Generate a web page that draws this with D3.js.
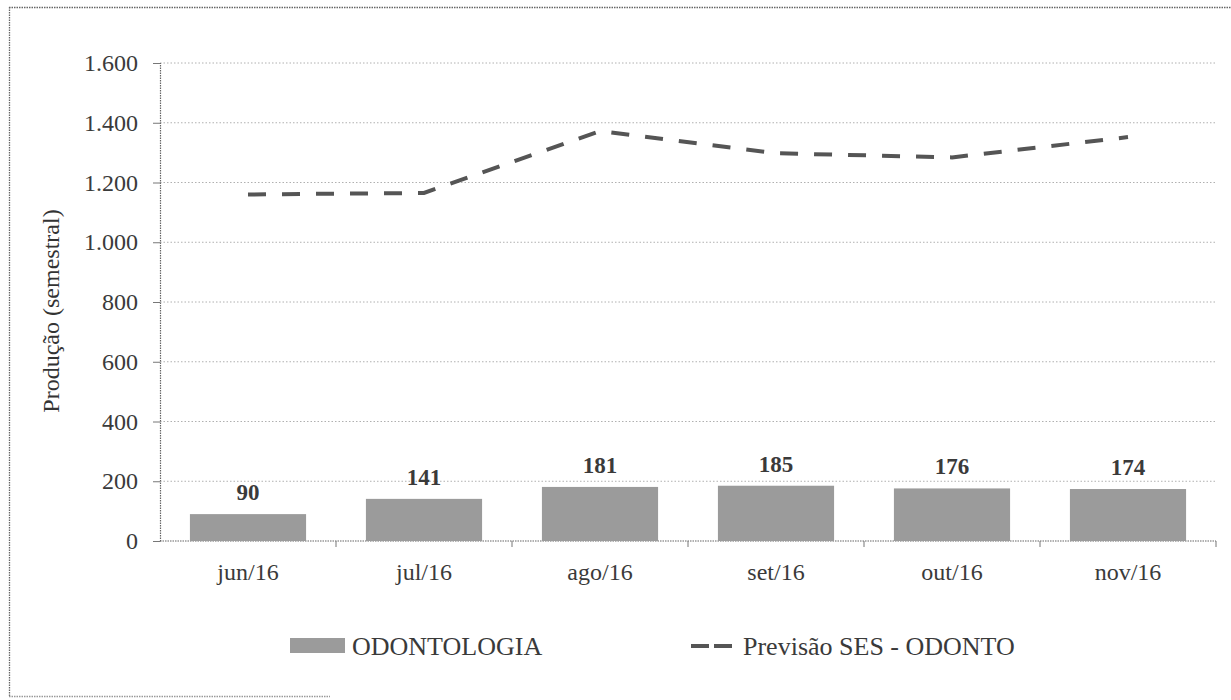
<!DOCTYPE html>
<html>
<head>
<meta charset="utf-8">
<script src="https://cdn.jsdelivr.net/npm/d3@7"></script>
<style>
  body { margin: 0; background: #fff; }
  svg { display: block; }
  svg text { font-family: "Liberation Serif", "Times New Roman", Times, "DejaVu Serif", serif; }
</style>
</head>
<body>
<svg id="chart" width="1231" height="700"></svg>
<script>
var months = ["jun/16", "jul/16", "ago/16", "set/16", "out/16", "nov/16"]
var odontologia = [90, 141, 181, 185, 176, 174]
var previsao = [1160, 1165, 1372, 1298, 1284, 1352]
var yTicks = [0, 200, 400, 600, 800, 1000, 1200, 1400, 1600]

var svg = d3.select("#chart")

// frame (scan shows top, left and a piece of the bottom edge)
var frame = svg.append("g")
    .attr("stroke", "#666")
    .attr("stroke-width", 1.3)
    .attr("stroke-dasharray", "1.5,1")
frame.append("line").attr("x1", 9).attr("x2", 1231).attr("y1", 7.5).attr("y2", 7.5)
frame.append("line").attr("x1", 9.5).attr("x2", 9.5).attr("y1", 7).attr("y2", 697)
frame.append("line").attr("x1", 9).attr("x2", 330).attr("y1", 696.5).attr("y2", 696.5)
    .attr("stroke", "#999")

var plotLeft = 160, plotRight = 1216, plotTop = 63, plotBottom = 541

var x = d3.scaleBand()
    .domain(months)
    .range([plotLeft, plotRight])
    .paddingInner(0.34)
    .paddingOuter(0.17)

var xb = d3.scaleBand().domain(months).range([plotLeft, plotRight])

var y = d3.scaleLinear()
    .domain([0, 1600])
    .range([plotBottom, plotTop])

// gridlines
svg.append("g").selectAll("line")
    .data(yTicks.filter(d => d > 0))
    .enter().append("line")
    .attr("x1", plotLeft).attr("x2", plotRight)
    .attr("y1", d => y(d)).attr("y2", d => y(d))
    .attr("stroke", "#b0b0b0")
    .attr("stroke-width", 1)
    .attr("stroke-dasharray", "1.5,2")

// y axis
var yAxis = svg.append("g")
    .attr("transform", "translate(" + plotLeft + ",0)")
    .call(d3.axisLeft(y).tickValues(yTicks).tickSize(7).tickPadding(15)
        .tickFormat(d => d3.format(",")(d).replace(/,/g, ".")))
yAxis.select(".domain").attr("stroke", "#666").attr("stroke-width", 1.2).attr("stroke-dasharray", "1.5,1")
yAxis.selectAll(".tick line").attr("stroke", "#777")
yAxis.selectAll("text")
    .attr("font-size", 24)
    .attr("fill", "#3a3a3a")
    .attr("font-family", null)

// x axis
var xAxisG = svg.append("g")
    .attr("transform", "translate(0," + plotBottom + ")")
xAxisG.append("line")
    .attr("x1", plotLeft).attr("x2", plotRight)
    .attr("stroke", "#666").attr("stroke-width", 1.2)
    .attr("stroke-dasharray", "1.5,1")
xAxisG.selectAll("line.tk")
    .data(months)
    .enter().append("line")
    .attr("class", "tk")
    .attr("x1", d => xb(d) + xb.bandwidth()).attr("x2", d => xb(d) + xb.bandwidth())
    .attr("y1", 0).attr("y2", 6)
    .attr("stroke", "#777")
xAxisG.selectAll("text")
    .data(months)
    .enter().append("text")
    .attr("x", d => xb(d) + xb.bandwidth() / 2)
    .attr("y", 39)
    .attr("text-anchor", "middle")
    .attr("font-size", 24)
    .attr("fill", "#3a3a3a")
    .text(d => d)

// bars
svg.append("g").selectAll("rect")
    .data(months)
    .enter().append("rect")
    .attr("x", d => x(d))
    .attr("y", (d, i) => y(odontologia[i]))
    .attr("width", x.bandwidth())
    .attr("height", (d, i) => plotBottom - y(odontologia[i]))
    .attr("fill", "#9b9b9b")

// bar labels
svg.append("g").selectAll("text")
    .data(months)
    .enter().append("text")
    .attr("x", d => x(d) + x.bandwidth() / 2)
    .attr("y", (d, i) => y(odontologia[i]) - 14)
    .attr("text-anchor", "middle")
    .attr("font-size", 23)
    .attr("font-weight", "bold")
    .attr("fill", "#3a3a3a")
    .text((d, i) => odontologia[i])

// dashed forecast line
var line = d3.line()
    .x((d, i) => xb(months[i]) + xb.bandwidth() / 2)
    .y(d => y(d))

svg.append("path")
    .datum(previsao)
    .attr("d", line)
    .attr("fill", "none")
    .attr("stroke", "#555")
    .attr("stroke-width", 4)
    .attr("stroke-dasharray", "18,16")

// y title
svg.append("text")
    .attr("transform", "translate(59,311) rotate(-90)")
    .attr("text-anchor", "middle")
    .attr("font-size", 24)
    .attr("fill", "#333")
    .text("Produção (semestral)")

// legend
var legend = svg.append("g")
legend.append("rect")
    .attr("x", 290).attr("y", 638)
    .attr("width", 55).attr("height", 15)
    .attr("fill", "#9b9b9b")
legend.append("text")
    .attr("x", 352).attr("y", 655)
    .attr("font-size", 26)
    .attr("fill", "#3a3a3a")
    .text("ODONTOLOGIA")
legend.append("line")
    .attr("x1", 691).attr("x2", 732)
    .attr("y1", 646).attr("y2", 646)
    .attr("stroke", "#555")
    .attr("stroke-width", 4)
    .attr("stroke-dasharray", "18,5")
legend.append("text")
    .attr("x", 743).attr("y", 655)
    .attr("font-size", 26)
    .attr("fill", "#3a3a3a")
    .text("Previsão SES - ODONTO")
</script>
</body>
</html>
